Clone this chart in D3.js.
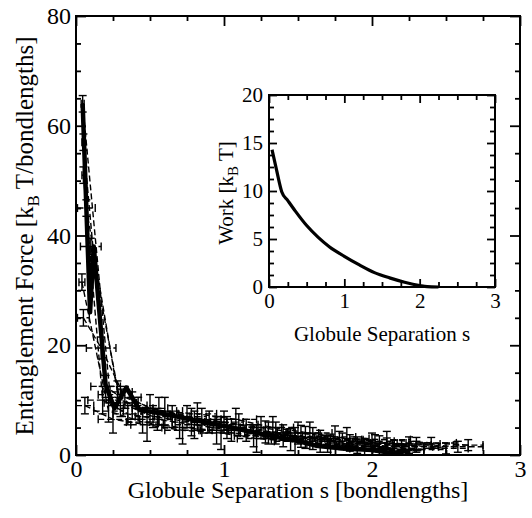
<!DOCTYPE html>
<html><head><meta charset="utf-8">
<script src="https://cdn.jsdelivr.net/npm/d3@7"></script>
<style>body{margin:0;background:#fff}svg{display:block}text{font-family:'Liberation Serif','Times New Roman',serif}</style>
</head><body>
<svg id="c" width="532" height="518"></svg>
<script>
// ---- data ----
const meanS = [0.045,0.095,0.12,0.2,0.26,0.34,0.43,0.57,0.79,1.02,1.24,1.47,1.62,1.8,2.0,2.15,2.25];
const meanF = [64,26,38,12.8,8.5,12.3,8.2,7.6,6.4,5.2,3.9,2.7,1.7,1.2,0.9,0.3,0.8];

// runs: [s, F, sErr, FErr]
const runA = [[0.045,64,0.01,1.5],[0.23,11,0.08,1.5],[0.42,8.5,0.1,2],[0.65,7,0.12,2],[0.9,6,0.12,2],[1.15,4.5,0.12,2],[1.4,3.5,0.13,2],[1.65,2.5,0.13,2],[1.9,1.8,0.14,1.5],[2.15,1.2,0.14,1.5]];
const runB = [[0.05,57,0.01,1.5],[0.2,12.5,0.1,2],[0.38,9,0.1,2.5],[0.6,8,0.12,2.5],[0.85,6.5,0.13,2],[1.1,5.5,0.13,2],[1.35,4,0.13,2],[1.6,3,0.14,2],[1.85,2.2,0.14,1.5],[2.1,1.6,0.15,1.5],[2.35,1.0,0.15,1.2]];
const runC = [[0.05,51,0.01,1.5],[0.18,10,0.1,2.5],[0.35,7.5,0.1,2],[0.55,6.5,0.12,2],[0.8,5.5,0.13,2.5],[1.05,4.5,0.13,2],[1.3,4,0.14,2],[1.55,3.2,0.14,2],[1.8,2.5,0.14,1.5],[2.05,2,0.15,1.5],[2.3,1.5,0.15,1]];
const runD = [[0.07,45,0.06,1.5],[0.28,11.5,0.1,2],[0.5,8.5,0.12,2.5],[0.75,7,0.13,2],[1.0,6,0.13,2],[1.25,5,0.14,2],[1.5,4,0.14,2],[1.75,3.3,0.14,2],[2.0,2.5,0.15,1.5],[2.25,1.8,0.15,1.5],[2.5,1.2,0.15,1]];
const runE = [[0.1,38,0.07,1.5],[0.3,9.5,0.11,2.5],[0.52,7,0.12,2],[0.78,6,0.13,2.5],[1.02,5,0.13,2],[1.28,4.2,0.14,2],[1.52,3.4,0.14,2],[1.78,2.8,0.15,1.5],[2.02,2.2,0.15,1.5],[2.3,2.0,0.16,1.2],[2.58,1.5,0.17,1]];
const runF = [[0.04,31.5,0.02,1.5],[0.22,8,0.1,2],[0.45,6,0.11,2],[0.7,5,0.12,2],[0.95,4.5,0.12,2.5],[1.2,3.5,0.13,2],[1.45,2.8,0.13,2],[1.7,2,0.14,1.5],[1.95,1.5,0.14,1.5],[2.2,1,0.15,1]];
const runG = [[0.05,25,0.04,1.5],[0.17,19.5,0.1,2],[0.33,10.5,0.11,2],[0.56,8,0.12,2.5],[0.82,7.5,0.13,2],[1.08,6.5,0.14,2],[1.33,5,0.14,2],[1.58,4,0.15,2],[1.83,3,0.15,2],[2.1,2.8,0.16,1.5],[2.4,2.2,0.17,1],[2.65,1.8,0.1,1]];
const runH = [[0.06,9,0.06,1.5],[0.25,6.5,0.1,2.5],[0.48,5.5,0.11,3],[0.72,4.5,0.12,2.5],[0.98,4,0.13,3],[1.22,3,0.13,2.5],[1.48,2.5,0.14,2.5],[1.72,1.8,0.14,2],[2.0,1.2,0.15,1.5],[2.2,0.8,0.15,1]];
const runs = [runA, runB, runC, runD, runE, runF, runG, runH];

const workS = [0.04,0.1,0.17,0.25,0.35,0.5,0.65,0.8,1.0,1.2,1.4,1.6,1.8,2.0,2.1,2.25];
const workW = [14.3,12.2,9.9,9.0,7.9,6.4,5.2,4.2,3.2,2.3,1.5,0.95,0.5,0.15,0.03,0];

const mainXTicks = [0,1,2,3];
const mainYTicks = [0,20,40,60,80];
const insetXTicks = [0,1,2,3];
const insetYTicks = [0,5,10,15,20];

// ---- drawing ----
const FONT = "'Liberation Serif','Times New Roman',serif";
const svg = d3.select("#c");
svg.append("rect").attr("width",532).attr("height",518).attr("fill","#fff");

function frameAxes(g, x, y, xT, yT, xMinor, yMinor, major, minor, fs, pad) {
  const [x0,x1] = x.range(), [y0,y1] = y.range();
  const mk = (axisFn, scale, vals, len, tr, labels) => {
    const a = g.append("g").attr("transform", tr).call(
      axisFn(scale).tickValues(vals).tickSizeInner(-len).tickSizeOuter(0).tickPadding(pad)
        .tickFormat(labels ? d3.format("d") : () => ""));
    a.attr("font-family", FONT).attr("font-size", fs);
    a.select(".domain").remove();
    a.selectAll("line").attr("stroke","#000").attr("stroke-width",1.8);
    a.selectAll("text").style("font-family",FONT).style("font-size",fs+"px").attr("fill","#000");
    return a;
  };
  mk(d3.axisBottom, x, xT, major, `translate(0,${y0})`, true);
  mk(d3.axisBottom, x, xMinor, minor, `translate(0,${y0})`, false);
  mk(d3.axisTop, x, xT, major, `translate(0,${y1})`, false);
  mk(d3.axisTop, x, xMinor, minor, `translate(0,${y1})`, false);
  mk(d3.axisLeft, y, yT, major, `translate(${x0},0)`, true);
  mk(d3.axisLeft, y, yMinor, minor, `translate(${x0},0)`, false);
  mk(d3.axisRight, y, yT, major, `translate(${x1},0)`, false);
  mk(d3.axisRight, y, yMinor, minor, `translate(${x1},0)`, false);
  g.append("rect").attr("x",x0).attr("y",y1).attr("width",x1-x0).attr("height",y0-y1)
    .attr("fill","none").attr("stroke","#000").attr("stroke-width",2);
}

// main
const x = d3.scaleLinear().domain([0,3]).range([76,520]);
const y = d3.scaleLinear().domain([0,80]).range([455,16]);
const main = svg.append("g");
svg.append("defs").append("clipPath").attr("id","clipMain").append("rect")
  .attr("x",76).attr("y",16).attr("width",444).attr("height",439);
const data = main.append("g").attr("clip-path","url(#clipMain)");

const capPx = 4;
runs.forEach(run => {
  const g = data.append("g").attr("fill","none").attr("stroke","#000");
  g.append("path").attr("d", d3.line().x(d=>x(d[0])).y(d=>y(d[1]))(run))
    .attr("stroke-width",1.4).attr("stroke-dasharray","6,3");
  run.forEach(d => {
    const [s,F,ds,dF] = d;
    g.append("line").attr("x1",x(s-ds)).attr("x2",x(s+ds)).attr("y1",y(F)).attr("y2",y(F))
      .attr("stroke-width",1.4).attr("stroke-dasharray","6,3");
    [s-ds,s+ds].forEach(v => g.append("line").attr("x1",x(v)).attr("x2",x(v))
      .attr("y1",y(F)-capPx).attr("y2",y(F)+capPx).attr("stroke-width",1.4));
    g.append("line").attr("x1",x(s)).attr("x2",x(s)).attr("y1",y(F-dF)).attr("y2",y(F+dF))
      .attr("stroke-width",1.4);
    [F-dF,F+dF].forEach(v => g.append("line").attr("x1",x(s)-capPx).attr("x2",x(s)+capPx)
      .attr("y1",y(v)).attr("y2",y(v)).attr("stroke-width",1.4));
  });
});
data.append("path")
  .attr("d", d3.line().x((d,i)=>x(meanS[i])).y((d,i)=>y(meanF[i]))(meanS))
  .attr("fill","none").attr("stroke","#000").attr("stroke-width",4.5).attr("stroke-linejoin","round");

frameAxes(main, x, y, mainXTicks, mainYTicks,
  d3.range(0,3.01,0.25).filter(v=>Math.abs(v-Math.round(v))>1e-6),
  d3.range(0,80.1,5).filter(v=>v%20!==0), 10, 5, 24, 5);

main.append("text").attr("x",298).attr("y",498).attr("text-anchor","middle")
  .attr("font-size",24).text("Globule Separation s [bondlengths]");
const yl = main.append("text").attr("transform","translate(33,236) rotate(-90)")
  .attr("text-anchor","middle").attr("font-size",25);
yl.append("tspan").text("Entanglement Force [k");
yl.append("tspan").attr("font-size",17).attr("dy",6).text("B");
yl.append("tspan").attr("dy",-6).text(" T/bondlengths]");

// inset
const xi = d3.scaleLinear().domain([0,3]).range([269,495]);
const yi = d3.scaleLinear().domain([0,20]).range([287,95]);
const inset = svg.append("g");
inset.append("rect").attr("x",269).attr("y",95).attr("width",226).attr("height",192).attr("fill","#fff");
inset.append("path")
  .attr("d", d3.line().x((d,i)=>xi(workS[i])).y((d,i)=>yi(workW[i])).curve(d3.curveMonotoneX)(workS))
  .attr("fill","none").attr("stroke","#000").attr("stroke-width",3.2);
frameAxes(inset, xi, yi, insetXTicks, insetYTicks,
  d3.range(0,3.01,0.25).filter(v=>Math.abs(v-Math.round(v))>1e-6),
  d3.range(0,20.01,1.25).filter(v=>v%5!==0), 8, 5, 21, 6);
inset.append("text").attr("x",382).attr("y",341).attr("text-anchor","middle")
  .attr("font-size",21).text("Globule Separation s");
const wl = inset.append("text").attr("transform","translate(233,193) rotate(-90)")
  .attr("text-anchor","middle").attr("font-size",21);
wl.append("tspan").text("Work [k");
wl.append("tspan").attr("font-size",15).attr("dy",5).text("B");
wl.append("tspan").attr("dy",-5).text(" T]");
</script>
</body></html>
